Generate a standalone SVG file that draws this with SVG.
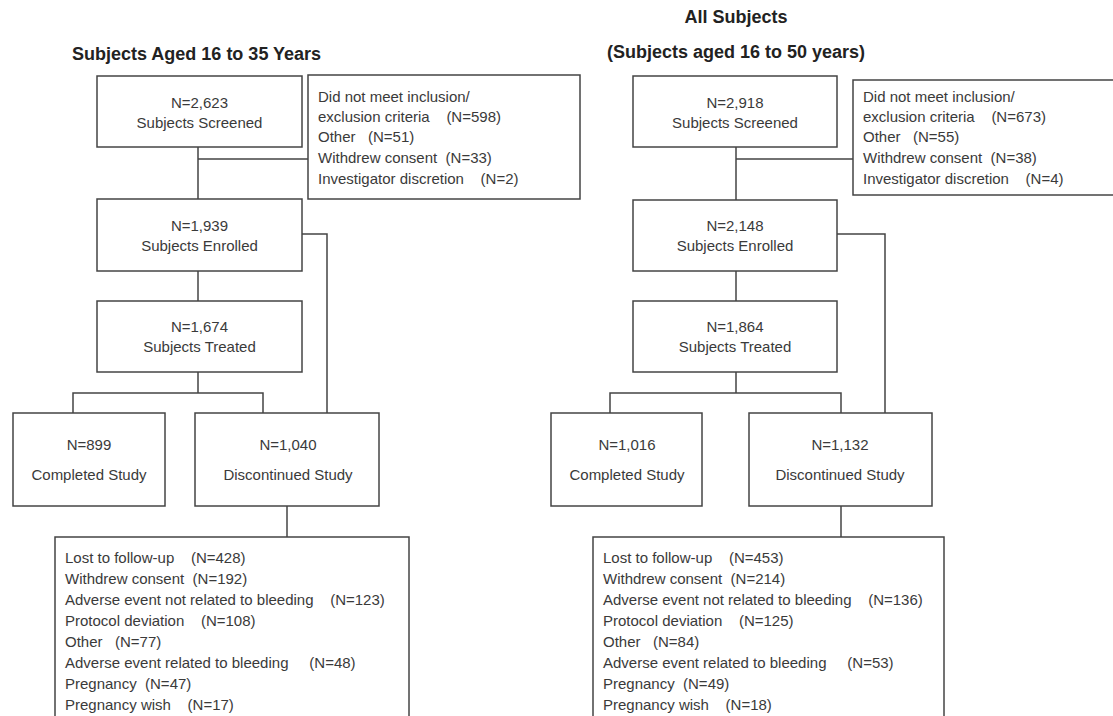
<svg xmlns="http://www.w3.org/2000/svg" width="1113" height="716" viewBox="0 0 1113 716">
<style>
.box{fill:#fff;stroke:#444;stroke-width:1.5}
.ln{fill:none;stroke:#444;stroke-width:1.5}
.t{font-family:"Liberation Sans",Arial,sans-serif;font-size:15px;fill:#3a3a3a;white-space:pre}
.c{text-anchor:middle}
.h{font-family:"Liberation Sans",Arial,sans-serif;font-size:18px;font-weight:bold;fill:#222}
</style>
<rect width="1113" height="716" fill="#fff"/>
<g id="connectors">
<path class="ln" d="M198 147V199M198 159H308"/>
<path class="ln" d="M302 234H327V413"/>
<path class="ln" d="M198 271V301"/>
<path class="ln" d="M198 372V393M73 413V393H263V413"/>
<path class="ln" d="M287 506V537"/>
<path class="ln" d="M736 147V200M736 159H853"/>
<path class="ln" d="M837 234H885V413"/>
<path class="ln" d="M736 271V301"/>
<path class="ln" d="M736 372V393M610 413V393H841V413"/>
<path class="ln" d="M841 506V537"/>
</g>
<g id="title-left"><text class="h" x="72" y="60">Subjects Aged 16 to 35 Years</text></g>
<g id="title-right"><text class="h c" x="736" y="23">All Subjects</text><text class="h c" x="736" y="58">(Subjects aged 16 to 50 years)</text></g>
<g id="L-screened"><rect class="box" x="97" y="76" width="205" height="71"/><text class="t c" x="199.5" y="108">N=2,623</text><text class="t c" x="199.5" y="128">Subjects Screened</text></g>
<g id="L-excluded"><rect class="box" x="308" y="75" width="272" height="124"/>
<text class="t" x="318" y="102">Did not meet inclusion/</text>
<text class="t" x="318" y="122">exclusion criteria    (N=598)</text>
<text class="t" x="318" y="142">Other   (N=51)</text>
<text class="t" x="318" y="163">Withdrew consent  (N=33)</text>
<text class="t" x="318" y="184">Investigator discretion    (N=2)</text></g>
<g id="L-enrolled"><rect class="box" x="97" y="199" width="205" height="72"/><text class="t c" x="199.5" y="231">N=1,939</text><text class="t c" x="199.5" y="251">Subjects Enrolled</text></g>
<g id="L-treated"><rect class="box" x="97" y="301" width="205" height="71"/><text class="t c" x="199.5" y="332">N=1,674</text><text class="t c" x="199.5" y="352">Subjects Treated</text></g>
<g id="L-completed"><rect class="box" x="13" y="413" width="152" height="93"/><text class="t c" x="89" y="450">N=899</text><text class="t c" x="89" y="480">Completed Study</text></g>
<g id="L-discontinued"><rect class="box" x="195" y="413" width="184" height="93"/><text class="t c" x="288" y="450">N=1,040</text><text class="t c" x="288" y="480">Discontinued Study</text></g>
<g id="L-reasons"><rect class="box" x="55" y="537" width="354" height="200"/>
<text class="t" x="65" y="563">Lost to follow-up    (N=428)</text>
<text class="t" x="65" y="584">Withdrew consent  (N=192)</text>
<text class="t" x="65" y="605">Adverse event not related to bleeding    (N=123)</text>
<text class="t" x="65" y="626">Protocol deviation    (N=108)</text>
<text class="t" x="65" y="647">Other   (N=77)</text>
<text class="t" x="65" y="668">Adverse event related to bleeding     (N=48)</text>
<text class="t" x="65" y="689">Pregnancy  (N=47)</text>
<text class="t" x="65" y="710">Pregnancy wish    (N=17)</text></g>
<g id="R-screened"><rect class="box" x="633" y="76" width="204" height="71"/><text class="t c" x="735" y="108">N=2,918</text><text class="t c" x="735" y="128">Subjects Screened</text></g>
<g id="R-excluded"><rect class="box" x="853" y="80" width="270" height="115"/>
<text class="t" x="863" y="102">Did not meet inclusion/</text>
<text class="t" x="863" y="122">exclusion criteria    (N=673)</text>
<text class="t" x="863" y="142">Other   (N=55)</text>
<text class="t" x="863" y="163">Withdrew consent  (N=38)</text>
<text class="t" x="863" y="184">Investigator discretion    (N=4)</text></g>
<g id="R-enrolled"><rect class="box" x="633" y="200" width="204" height="71"/><text class="t c" x="735" y="231">N=2,148</text><text class="t c" x="735" y="251">Subjects Enrolled</text></g>
<g id="R-treated"><rect class="box" x="633" y="301" width="204" height="71"/><text class="t c" x="735" y="332">N=1,864</text><text class="t c" x="735" y="352">Subjects Treated</text></g>
<g id="R-completed"><rect class="box" x="551" y="413" width="151" height="93"/><text class="t c" x="627" y="450">N=1,016</text><text class="t c" x="627" y="480">Completed Study</text></g>
<g id="R-discontinued"><rect class="box" x="749" y="413" width="183" height="93"/><text class="t c" x="840" y="450">N=1,132</text><text class="t c" x="840" y="480">Discontinued Study</text></g>
<g id="R-reasons"><rect class="box" x="593" y="537" width="351" height="200"/>
<text class="t" x="603" y="563">Lost to follow-up    (N=453)</text>
<text class="t" x="603" y="584">Withdrew consent  (N=214)</text>
<text class="t" x="603" y="605">Adverse event not related to bleeding    (N=136)</text>
<text class="t" x="603" y="626">Protocol deviation    (N=125)</text>
<text class="t" x="603" y="647">Other   (N=84)</text>
<text class="t" x="603" y="668">Adverse event related to bleeding     (N=53)</text>
<text class="t" x="603" y="689">Pregnancy  (N=49)</text>
<text class="t" x="603" y="710">Pregnancy wish    (N=18)</text></g>
</svg>
